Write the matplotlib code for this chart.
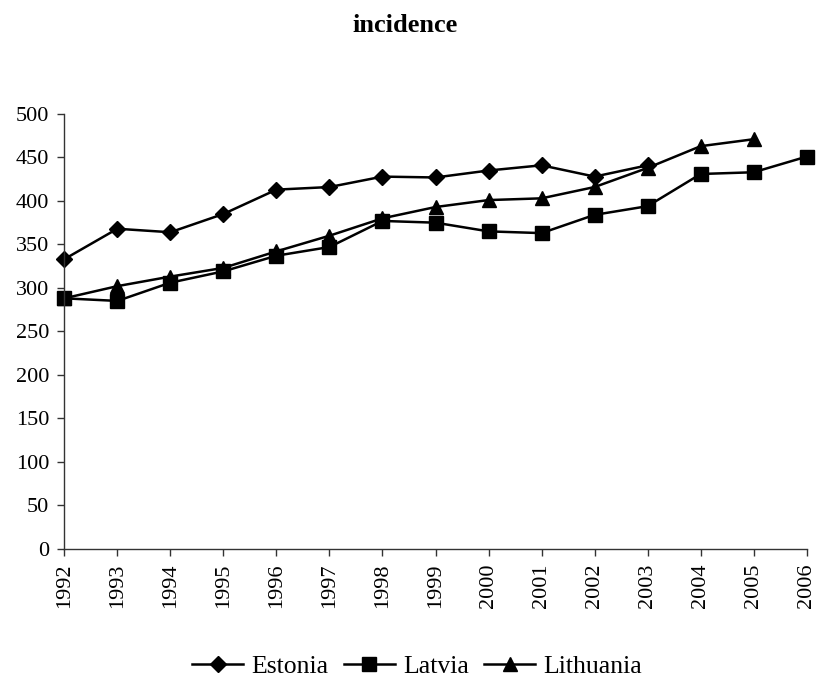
import matplotlib
matplotlib.use("Agg")
import matplotlib.pyplot as plt

plt.rcParams['font.family'] = ['Liberation Serif', 'DejaVu Serif']

# Data
years = list(range(1992, 2007))
estonia = [333, 368, 364, 385, 413, 416, 428, 427, 435, 441, 428, 441]
latvia = [288, 285, 306, 319, 337, 347, 377, 375, 365, 363, 384, 394, 431, 433, 451]
lithuania = [288, 302, 313, 323, 342, 360, 380, 393, 401, 403, 416, 438, 463, 471]

fig = plt.figure(figsize=(8.18, 6.79), dpi=100)
ax = fig.add_axes([0.0786, 0.1919, 0.9076, 0.6402])

line_kw = dict(color='black', linewidth=1.8, clip_on=False)
ax.plot(years[:len(estonia)], estonia, marker='D', markersize=8, label='Estonia', **line_kw)
ax.plot(years[:len(latvia)], latvia, marker='s', markersize=10.5, label='Latvia', **line_kw)
ax.plot(years[:len(lithuania)], lithuania, marker='^', markersize=10.5, label='Lithuania', **line_kw)

ax.set_xlim(1992, 2006)
ax.set_ylim(0, 500)
ax.set_xticks(years)
ax.set_xticklabels([str(y) for y in years], rotation=90)
ax.set_yticks(range(0, 501, 50))

for side in ['top', 'right']:
    ax.spines[side].set_visible(False)
for side in ['left', 'bottom']:
    ax.spines[side].set_color('#333333')
    ax.spines[side].set_linewidth(1.0)
ax.tick_params(direction='out', length=5, width=1.0, color='#333333',
               labelsize=16, pad=6)

fig.text(405 / 818, 1 - 31.7 / 679, 'incidence', ha='center', va='baseline',
         fontsize=19, fontweight='bold')

fig.legend(loc='center', bbox_to_anchor=(417 / 818, 1 - 666.7 / 679), ncol=3,
           frameon=False, fontsize=18.5, handlelength=2.0, handletextpad=0.3,
           columnspacing=0.6, borderpad=0)

fig.savefig('out.png', dpi=100)
